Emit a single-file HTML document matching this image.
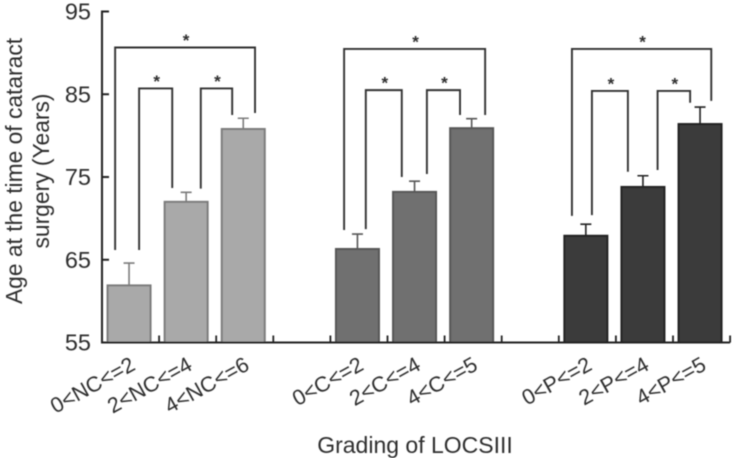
<!DOCTYPE html>
<html lang="en">
<head>
<meta charset="utf-8">
<title>Age at cataract surgery by LOCSIII grading</title>
<style>
html,body{margin:0;padding:0;background:#fff;}
svg{display:block;}
text{font-family:"Liberation Sans",sans-serif;fill:#2e2e2e;}
</style>
</head>
<body>
<svg id="chart" xmlns="http://www.w3.org/2000/svg" width="733" height="458" viewBox="0 0 733 458">
  <defs>
    <filter id="soft" x="-5%" y="-5%" width="110%" height="110%"><feGaussianBlur stdDeviation="0.5"/></filter>
  </defs>
  <g id="root" filter="url(#soft)"></g>
</svg>
<script>
const categories = ['0<NC<=2','2<NC<=4','4<NC<=6','0<C<=2','2<C<=4','4<C<=5','0<P<=2','2<P<=4','4<P<=5'];
const slots = [0,1,2,4,5,6,8,9,10];
const means = [61.9,72.0,80.8,66.3,73.2,80.9,67.9,73.8,81.4];
const errorTops = [64.6,73.15,82.1,68.1,74.5,82.05,69.3,75.15,83.45];
const groups = [0,0,0,1,1,1,2,2,2];
const yTicks = [55,65,75,85,95];
const slotCount = 11;
const bracketLeft = [0.23,0.65,1.73,4.24,4.62,5.69,8.23,8.58,9.73];
const bracketRight = [2.68,1.23,2.28,6.71,5.25,6.27,10.67,9.21,10.3];
const bracketTop = [90.65,85.7,85.7,90.47,85.5,85.5,90.47,85.4,85.4];
const bracketLeftEnd = [66.18,66.18,73.59,68.6,68.7,75.36,70.3,70.4,75.85];
const bracketRightEnd = [82.73,73.67,82.49,82.49,75.0,82.49,84.2,75.64,83.98];

const root = document.getElementById('root');
const NS = 'http://www.w3.org/2000/svg';
const X0 = 102, SLOT = 57.1, Y55 = 342.5, PER = 8.275;
const fills = ['#a9a9a9','#707070','#3b3b3b'];
const strokes = ['#7c7c7c','#565656','#232323'];
const x = s => X0 + SLOT * s;
const y = v => Y55 - (v - 55) * PER;

function make(tag, attrs, text) {
  const el = document.createElementNS(NS, tag);
  for (const k in attrs) el.setAttribute(k, attrs[k]);
  if (text !== undefined) el.textContent = text;
  root.appendChild(el);
  return el;
}

means.forEach((m, i) => {
  const cx = x(slots[i] + 0.5) - 1.5;
  const g = groups[i];
  const err = make('path', {
    d: `M${cx} ${y(m)}V${y(errorTops[i])}M${cx - 5.5} ${y(errorTops[i])}H${cx + 5.5}`,
    fill: 'none', stroke: strokes[g], 'stroke-width': 1.6
  });
  
  
  const bar = make('rect', {
    x: cx - 21.5, y: y(m), width: 43, height: y(55) - y(m),
    fill: fills[g], stroke: strokes[g], 'stroke-width': 2
  });
  
  
  const lx = cx + 7.5, ly = 369;
  const label = make('text', {
    x: lx, y: ly, 'font-size': 21.5, 'text-anchor': 'end',
    transform: `rotate(-29 ${lx} ${ly})`
  }, categories[i]);
  
  
});

bracketLeft.forEach((l, i) => {
  const xl = x(l), xr = x(bracketRight[i]), top = y(bracketTop[i]);
  const br = make('path', {
    d: `M${xl} ${y(bracketLeftEnd[i])}V${top}H${xr}V${y(bracketRightEnd[i])}`,
    fill: 'none', stroke: '#333', 'stroke-width': 1.9
  });
  
  
  const star = make('text', {
    x: (xl + xr) / 2 + 1, y: top - 1.5, 'font-size': 17, 'font-weight': 'bold', 'text-anchor': 'middle'
  }, '*');
  
  
});

const yAxis = make('line', { x1: X0, x2: X0, y1: y(95) - 1, y2: y(55) + 1, stroke: '#222', 'stroke-width': 2 });


const xAxis = make('line', { x1: X0 - 1, x2: x(slotCount), y1: y(55), y2: y(55), stroke: '#222', 'stroke-width': 2 });



yTicks.forEach(t => {
  const tick = make('line', { x1: X0, x2: X0 + 7, y1: y(t), y2: y(t), stroke: '#222', 'stroke-width': 2 });
  
  
  const label = make('text', { x: 91, y: y(t) + 8, 'font-size': 23.5, 'text-anchor': 'end' }, String(t));
  
  
});

for (let s = 1; s <= slotCount; s++) {
  const tick = make('line', { x1: x(s), x2: x(s), y1: y(55), y2: y(55) - 7, stroke: '#222', 'stroke-width': 1.8 });
  
  
}

const t1 = make('text', { x: 22, y: 171, 'font-size': 22.8, 'text-anchor': 'middle', transform: 'rotate(-90 22 171)' }, 'Age at the time of cataract');


const t2 = make('text', { x: 49, y: 171, 'font-size': 22.8, 'text-anchor': 'middle', transform: 'rotate(-90 49 171)' }, 'surgery (Years)');


const t3 = make('text', { x: 415, y: 453, 'font-size': 23, 'text-anchor': 'middle' }, 'Grading of LOCSIII');


</script>
</body>
</html>
